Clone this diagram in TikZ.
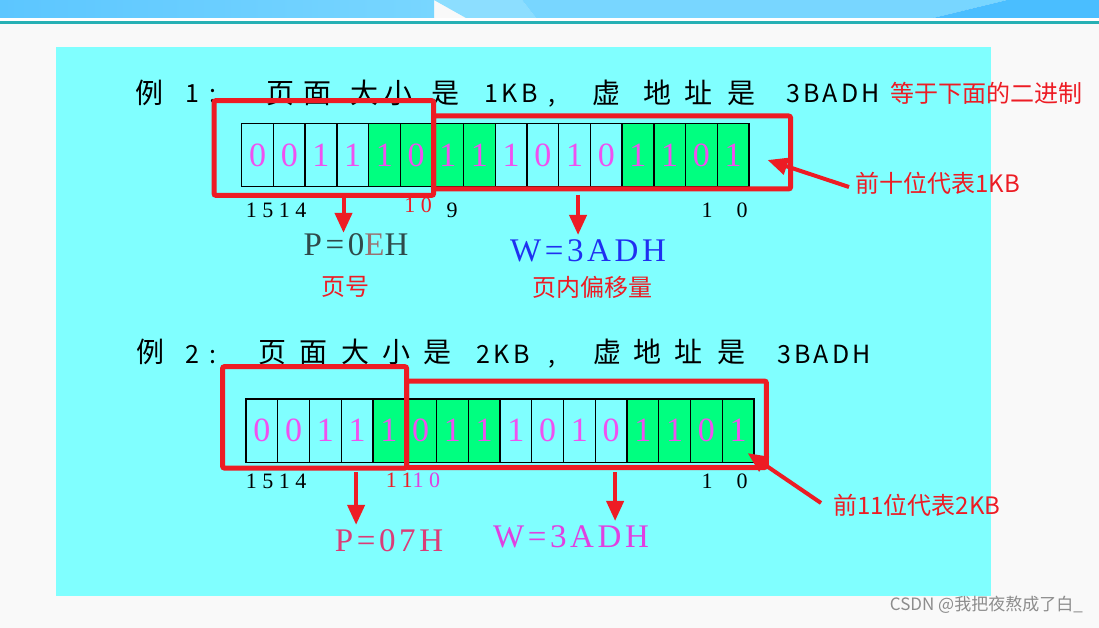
\documentclass[tikz,border=0pt]{standalone}
\usepackage{fontspec}
\setmainfont{Liberation Serif}
\newfontfamily\cjk{Noto Sans CJK SC}
\newfontfamily\titlelatin{Noto Sans CJK SC}[LetterSpace=13]
\newfontfamily\idxfont{Liberation Serif}[LetterSpace=25]
\newfontfamily\resfont{Liberation Serif}[LetterSpace=11]
\usetikzlibrary{arrows.meta,positioning,calc}
\definecolor{panelcyan}{HTML}{80FFFF}
\definecolor{bitgreen}{HTML}{00FF80}
\definecolor{pagegray}{HTML}{F9F9F9}
\definecolor{markred}{HTML}{ED1C24}
\definecolor{bitpink}{HTML}{F050F0}
\definecolor{tealline}{HTML}{26B0B4}
\definecolor{headblue}{HTML}{5CC6FF}
\definecolor{headlight}{HTML}{8CDEFF}
\definecolor{headmid}{HTML}{78D6FF}
\definecolor{headdark}{HTML}{4ABEFF}
\definecolor{pgray}{HTML}{2F4A4A}
\definecolor{egray}{HTML}{9A7070}
\definecolor{wblue}{HTML}{2030F0}
\definecolor{pcrimson}{HTML}{DC3C78}
\definecolor{wmagenta}{HTML}{E040E0}
\newcommand{\tcomma}{,}

\begin{document}
\begin{tikzpicture}[x=1pt, y=-1pt,
  title/.style={anchor=base, inner sep=0pt, font=\cjk\fontsize{28}{28}\selectfont},
  titlel/.style={anchor=base, inner sep=0pt, font=\titlelatin\fontsize{25}{25}\selectfont},
  bit/.style={draw=black, line width=1.4pt, minimum width=31.7pt, minimum height=63.4pt, inner sep=0pt, text=bitpink, font=\fontsize{34}{34}\selectfont},
  idx/.style={anchor=base, inner sep=0pt, font=\idxfont\fontsize{22}{22}\selectfont},
  redbox/.style={draw=markred, line width=5pt, rounded corners=2pt},
  redarrow/.style={draw=markred, line width=4pt, -{Triangle[length=20pt,width=17pt]}},
  note/.style={text=markred, inner sep=0pt, font=\cjk\fontsize{24}{24}\selectfont},
  result/.style={anchor=base, inner sep=0pt, font=\resfont\fontsize{33}{33}\selectfont},
]
\useasboundingbox (0,0) rectangle (1099,628);
% --- slide background ---
\fill[pagegray] (0,0) rectangle (1099,628);
\shade[left color=headblue, right color=headmid] (0,0) rectangle (434,18);
\fill[headlight] (434,0) -- (522,0) -- (536,18) -- (466,18) -- cycle;
\fill[headmid] (522,0) -- (1007,0) -- (933,18) -- (536,18) -- cycle;
\fill[headdark] (1007,0) -- (1099,0) -- (1099,18) -- (933,18) -- cycle;
\fill[white] (0,18) rectangle (1099,21);
\fill[tealline] (0,21) rectangle (1099,24);
\fill[panelcyan] (56,47) rectangle (991,596);

% --- example 1 ---
\foreach \x/\t [count=\k] in {149/例,280/页,317/面,364/大,398/小,445/是,606/虚,657/地,698/址,741/是}
  \node[title] (ta\k) at (\x,104) {\t};
\foreach \x/\t [count=\k] in {192/1,213/:,511/1KB,552/\tcomma,833/3BADH}
  \node[titlel] (la\k) at (\x,103) {\t};
\node[note, anchor=west] (eq) at (890,93) {等于下面的二进制};

\foreach \b/\f [count=\i] in {0/panelcyan,0/panelcyan,1/panelcyan,1/panelcyan,1/bitgreen,0/bitgreen,1/bitgreen,1/bitgreen,1/panelcyan,0/panelcyan,1/panelcyan,0/panelcyan,1/bitgreen,1/bitgreen,0/bitgreen,1/bitgreen}
  \node[bit, fill=\f] (a\i) at (225.85+31.7*\i,155) {\b};

\draw[redbox] ($(a6.north east)+(1,-6.6)$) rectangle ($(a16.south east)+(41,1.5)$);
\draw[redbox] ($(a1.north west)+(-27,-22)$) rectangle ($(a6.south east)+(1,8)$);

\node[idx] (ia1) at (276,218) {1514};
\node[idx, text=markred] (ia2) at (418,213) {10};
\node[idx] (ia3) at (452,218) {9};
\node[idx] (ia4) at (707,218) {1};
\node[idx] (ia5) at (742,218) {0};

\node[result, text=pgray] (p1) at (356,255) {P=0\textcolor{egray}{E}H};
\node[result, text=wblue] (w1) at (588,261) {W=3ADH};
\node[note] (pn1) at (345,287) {页号};
\node[note] (wn1) at (592,287) {页内偏移量};

\coordinate (d1) at ($(a3.south east)+(6,8)$);
\coordinate (d2) at ($(a11.south)+(3.5,7.5)$);
\draw[redarrow] (d1) -- (d1 |- p1.north);
\draw[redarrow] (d2) -- ($(d2 |- w1.north)+(0,-4)$);

\node[note, anchor=west] (n1) at (855,183) {前十位代表1KB};
\coordinate (t1) at ($(a16.east)+(18,5)$);
\draw[redarrow] ($(n1.west)+(-6,4)$) -- (t1);

% --- example 2 ---
\foreach \x/\t [count=\k] in {150/例,272/页,313/面,355/大,396/小,437/是,607/虚,647/地,688/址,731/是}
  \node[title] (tb\k) at (\x,362) {\t};
\foreach \x/\t [count=\k] in {192/2,213/:,503/2KB,552/\tcomma,824/3BADH}
  \node[titlel] (lb\k) at (\x,363) {\t};

\foreach \b/\f [count=\i] in {0/panelcyan,0/panelcyan,1/panelcyan,1/panelcyan,1/bitgreen,0/bitgreen,1/bitgreen,1/bitgreen,1/panelcyan,0/panelcyan,1/panelcyan,0/panelcyan,1/bitgreen,1/bitgreen,0/bitgreen,1/bitgreen}
  \node[bit, fill=\f, minimum width=31.75pt] (b\i) at (230.1+31.75*\i,430.7) {\b};

\draw[redbox] ($(b5.north east)+(1.2,-17.3)$) rectangle ($(b16.south east)+(11.7,4.4)$);
\draw[redbox] ($(b1.north west)+(-22.7,-31.7)$) rectangle ($(b5.south east)+(1.2,5)$);

\node[idx] (ib1) at (276,488) {1514};
\node[idx] (ib2) at (413,487) {\textcolor{markred}{11}\textcolor{wmagenta}{10}};
\node[idx] (ib3) at (707,488) {1};
\node[idx] (ib4) at (742,488) {0};

\node[result, text=pcrimson] (p2) at (389,551) {P=07H};
\node[result, text=wmagenta] (w2) at (571,547) {W=3ADH};

\coordinate (d3) at ($(b4.south)+(-1,9)$);
\coordinate (d4) at ($(b12.south)+(4,9)$);
\draw[redarrow] (d3) -- ($(d3 |- p2.north)+(0,-4)$);
\draw[redarrow] (d4) -- ($(d4 |- w2.north)+(0,-4)$);

\node[note, anchor=west] (n2) at (833,505) {前11位代表2KB};
\coordinate (t2) at ($(b16.south east)+(-7,-10)$);
\draw[redarrow] ($(n2.west)+(-12,-2)$) -- (t2);

\node[anchor=east, inner sep=0pt, text=black!45, font=\cjk\fontsize{17}{17}\selectfont] (mark) at (1083,605) {CSDN @我把夜熬成了白\_};
\end{tikzpicture}
\end{document}
